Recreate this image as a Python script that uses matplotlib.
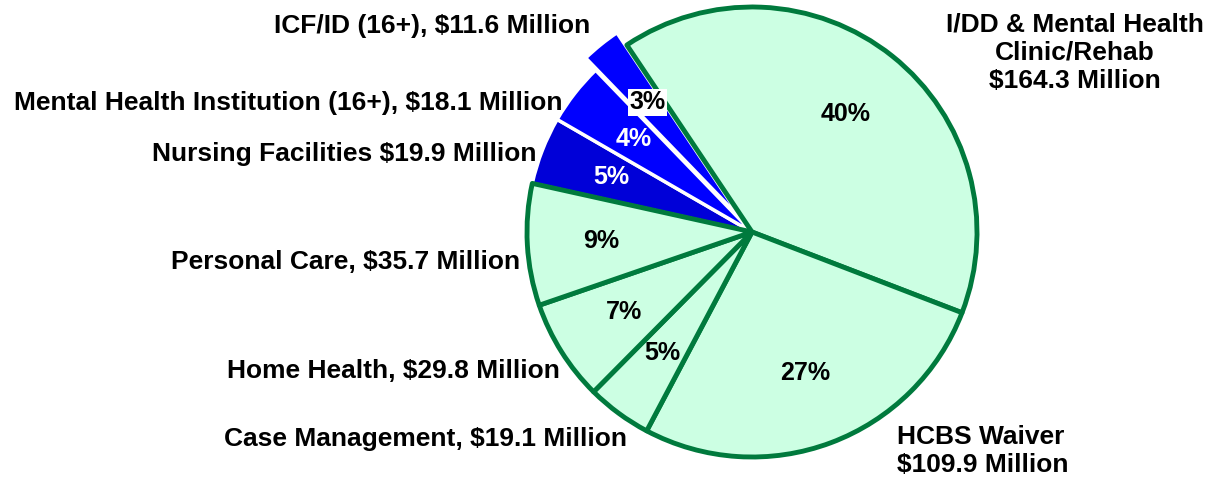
import matplotlib.pyplot as plt

plt.rcParams['font.family'] = ['Liberation Sans', 'DejaVu Sans']

# data (millions of dollars), clockwise from upper-left
categories = ["I/DD & Mental Health Clinic/Rehab", "HCBS Waiver", "Case Management",
              "Home Health", "Personal Care", "Nursing Facilities",
              "Mental Health Institution (16+)", "ICF/ID (16+)"]
values = [164.3, 109.9, 19.1, 29.8, 35.7, 19.9, 18.1, 11.6]
labels = ["I/DD & Mental Health\nClinic/Rehab\n$164.3 Million",
          "HCBS Waiver\n$109.9 Million",
          "Case Management, $19.1 Million",
          "Home Health, $29.8 Million",
          "Personal Care, $35.7 Million",
          "Nursing Facilities $19.9 Million",
          "Mental Health Institution (16+), $18.1 Million",
          "ICF/ID (16+), $11.6 Million"]

green = "#CCFFE3"
edge_green = "#007A3D"
fills = [green] * 5 + ["#0000D8", "#0000FF", "#0000FF"]
explode = [0, 0, 0, 0, 0, 0, 0, 0.07]

fig = plt.figure(figsize=(12.09, 4.79), dpi=100)
ax = fig.add_axes([0, 0, 1, 1])

wedges, texts, pcts = ax.pie(values, colors=fills, explode=explode, startangle=123.8,
                             counterclock=False, autopct="%1.0f%%", pctdistance=0.67,
                             radius=1, textprops=dict(fontsize=18, fontweight="bold"))
for i, w in enumerate(wedges):
    w.set_joinstyle("round")
    if i < 5:
        w.set_edgecolor(edge_green)
        w.set_linewidth(3.5)
        w.set_zorder(3)
    else:
        w.set_edgecolor("white")
        w.set_linewidth(2.5)
        w.set_zorder(2)
for i, t in enumerate(pcts):
    t.set_zorder(5)
    if i in (5, 6):
        t.set_color("white")
pcts[7].set_bbox(dict(facecolor="white", edgecolor="none", pad=1))

# place the whole thing so center is at pixel (752, 232), radius 225 px
s = 225.0
ax.set_xlim(-752 / s, (1209 - 752) / s)
ax.set_ylim(-(479 - 232) / s, 232 / s)
ax.set_aspect("auto")
ax.axis("off")

fs = 19
def ftext(px, py, txt, ha, **kw):
    fig.text(px / 1209, 1 - py / 479, txt, ha=ha, va="center", fontsize=fs,
             fontweight="bold", **kw)

ftext(1075, 53, labels[0], "center", linespacing=1.22)
ftext(897, 451, labels[1], "left", linespacing=1.2)
ftext(627, 439, labels[2], "right")
ftext(560, 371, labels[3], "right")
ftext(520, 262, labels[4], "right")
ftext(537, 154, labels[5], "right")
ftext(562, 103, labels[6], "right")
ftext(590, 26, labels[7], "right")

plt.savefig("out.png", dpi=100)
